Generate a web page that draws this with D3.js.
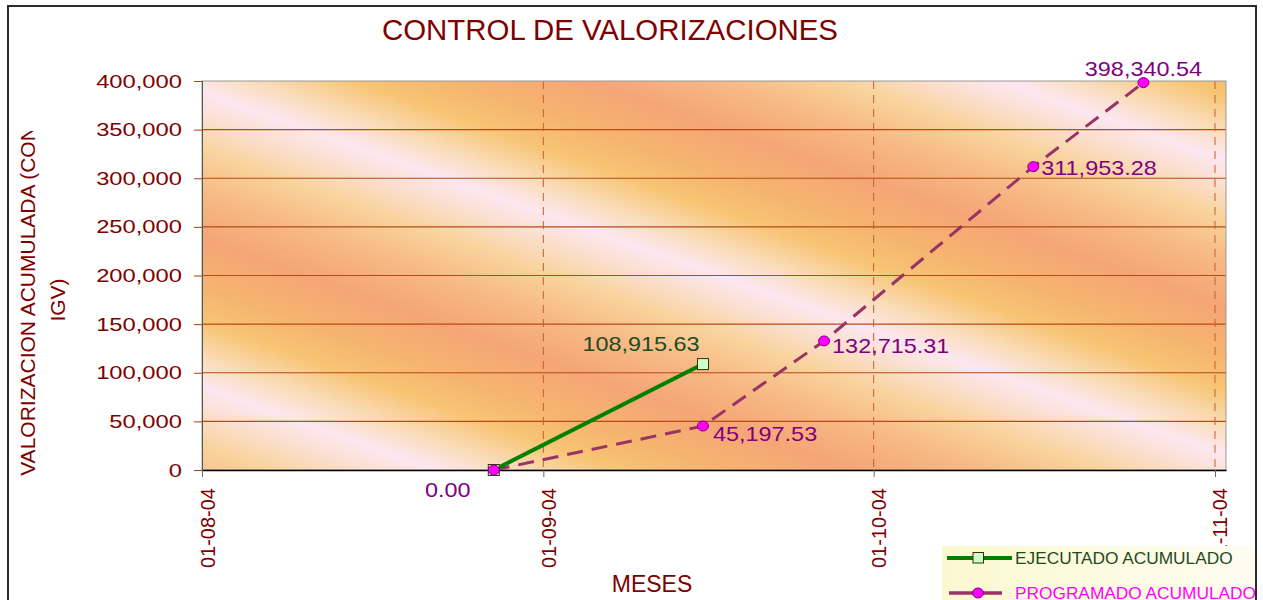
<!DOCTYPE html>
<html>
<head>
<meta charset="utf-8">
<script src="https://cdn.jsdelivr.net/npm/d3@7"></script>
<style>
  body { margin: 0; background: #fff; }
  svg { display: block; font-family: "Liberation Sans", Arial, sans-serif; }
</style>
</head>
<body>
<svg id="chart" width="1263" height="600"></svg>
<script>
// datos
const fechas = ["2004-08-27", "2004-09-15", "2004-09-26", "2004-10-15", "2004-10-25"];
const ejecutado = [0, 108915.63];
const programado = [0, 45197.53, 132715.31, 311953.28, 398340.54];
const yTicks = [0, 50000, 100000, 150000, 200000, 250000, 300000, 350000, 400000];
const xTicks = ["2004-08-01", "2004-09-01", "2004-10-01", "2004-11-01"];
const xDominio = ["2004-08-01", "2004-11-02"];
const series = ["EJECUTADO ACUMULADO", "PROGRAMADO ACUMULADO"];

// desplazamiento de las etiquetas (dx, dy, anchor) -- solo layout
const etqProgramado = [[-46, 27, "middle"], [10, 15, "start"], [8, 12, "start"], [8, 8, "start"], [0, -7, "middle"]];
const etqEjecutado = [null, [-62, -13, "middle"]];

const parse = d3.utcParse("%Y-%m-%d");
const fmtX = d3.utcFormat("%d-%m-%y");
const fmtV = d3.format(",.2f");

const margin = { left: 202, right: 1226, top: 81, bottom: 470 };

const svg = d3.select("#chart");
const defs = svg.append("defs");

let x = d3.scaleUtc()
  .domain(xDominio.map(parse))
  .range([margin.left, margin.right]);
let y = d3.scaleLinear()
  .domain([0, 400000])
  .range([margin.bottom, margin.top]);

// the points sit in the middle of their day
const xm = (f) => x(d3.utcHour.offset(parse(f), 12));

function stretch(sel, k) {
  sel.each(function () {
    const w = this.getComputedTextLength();
    d3.select(this).attr("textLength", w * k).attr("lengthAdjust", "spacingAndGlyphs");
  });
}

// fondo con bandas diagonales
const grad = defs.append("linearGradient")
  .attr("id", "fondo")
  .attr("gradientUnits", "userSpaceOnUse")
  .attr("spreadMethod", "repeat")
  .attr("x1", 200).attr("y1", 91)
  .attr("x2", 107).attr("y2", 353);
[[0, "#fde7f0"], [0.08, "#fbe0d2"], [0.2, "#f9d39c"], [0.35, "#f7b884"], [0.5, "#f5a576"],
 [0.66, "#f6b46f"], [0.78, "#f7c474"], [0.9, "#fadcb8"], [1, "#fde7f0"]]
  .forEach(([o, c]) => grad.append("stop").attr("offset", o).attr("stop-color", c));

const legGrad = defs.append("linearGradient").attr("id", "legfondo");
legGrad.append("stop").attr("offset", 0).attr("stop-color", "#fbf8d0");
legGrad.append("stop").attr("offset", 1).attr("stop-color", "#fffdf2");

defs.append("clipPath").attr("id", "clipTitulo")
  .append("rect").attr("x", 0).attr("y", 131).attr("width", 120).attr("height", 469);
defs.append("clipPath").attr("id", "clipMarco")
  .append("rect").attr("x", 9).attr("y", 7).attr("width", 1246).attr("height", 593);

svg.append("rect")
  .attr("x", margin.left).attr("y", margin.top)
  .attr("width", margin.right - margin.left)
  .attr("height", margin.bottom - margin.top)
  .attr("fill", "url(#fondo)");

// grid lines
svg.append("g")
  .selectAll("line")
  .data(yTicks.filter((t) => t > 0 && t < 400000))
  .enter()
  .append("line")
  .attr("x1", margin.left).attr("x2", margin.right)
  .attr("y1", (t) => y(t)).attr("y2", (t) => y(t))
  .attr("stroke", "#b94a14")
  .attr("stroke-width", 1.2);

svg.append("g")
  .selectAll("line")
  .data(xTicks.slice(1))
  .enter()
  .append("line")
  .attr("x1", (t) => x(parse(t))).attr("x2", (t) => x(parse(t)))
  .attr("y1", margin.top).attr("y2", margin.bottom)
  .attr("stroke", "#c4602c")
  .attr("stroke-dasharray", "8,6");

svg.append("rect")
  .attr("x", margin.left).attr("y", margin.top)
  .attr("width", margin.right - margin.left)
  .attr("height", margin.bottom - margin.top)
  .attr("fill", "none")
  .attr("stroke", "#9a9a9a");

// ejes
const yAxis = svg.append("g")
  .attr("transform", `translate(${margin.left},0)`)
  .call(d3.axisLeft(y).tickValues(yTicks).tickSize(8).tickPadding(12).tickFormat(d3.format(",")));
yAxis.select(".domain").attr("stroke", "#555");
yAxis.selectAll(".tick line").attr("stroke", "#a8420c");
yAxis.selectAll("text")
  .attr("fill", "#800000")
  .attr("font-size", 19)
  .attr("font-family", "Liberation Sans, Arial, sans-serif");
stretch(yAxis.selectAll("text"), 1.25);

const xAxis = svg.append("g")
  .attr("transform", `translate(0,${margin.bottom})`)
  .call(d3.axisBottom(x).tickValues(xTicks.map(parse)).tickSize(7).tickSizeOuter(0).tickFormat(fmtX));
xAxis.select(".domain").attr("stroke", "#000").attr("stroke-width", 1.6);
xAxis.selectAll(".tick line").attr("stroke", "#666");
xAxis.selectAll("text")
  .attr("fill", "#800000")
  .attr("font-size", 20)
  .attr("font-family", "Liberation Sans, Arial, sans-serif")
  .attr("text-anchor", "end")
  .attr("transform", "rotate(-90)")
  .attr("x", -18)
  .attr("y", 12)
  .attr("dy", 0);

// titulos
svg.append("text")
  .attr("x", 382).attr("y", 40)
  .attr("font-size", 29)
  .attr("fill", "#800000")
  .attr("textLength", 456)
  .attr("lengthAdjust", "spacingAndGlyphs")
  .text("CONTROL DE VALORIZACIONES");

svg.append("text")
  .attr("x", 652).attr("y", 592)
  .attr("text-anchor", "middle")
  .attr("font-size", 23)
  .attr("fill", "#800000")
  .text("MESES");

const yTitulo = svg.append("g").attr("clip-path", "url(#clipTitulo)");
yTitulo.append("text")
  .attr("transform", "translate(35,301) rotate(-90)")
  .attr("text-anchor", "middle")
  .attr("font-size", 21)
  .attr("fill", "#800000")
  .text("VALORIZACION ACUMULADA (CON");
yTitulo.append("text")
  .attr("transform", "translate(65,300) rotate(-90)")
  .attr("text-anchor", "middle")
  .attr("font-size", 21)
  .attr("fill", "#800000")
  .text("IGV)");

// series
const puntosP = fechas.map((f, i) => ({ f, v: programado[i] }));
const puntosE = ejecutado.map((v, i) => ({ f: fechas[i], v }));

const line = d3.line().x((d) => xm(d.f)).y((d) => y(d.v));

svg.append("path")
  .datum(puntosP)
  .attr("d", line)
  .attr("fill", "none")
  .attr("stroke", "#993366")
  .attr("stroke-width", 3)
  .attr("stroke-dasharray", "16,9");

svg.append("path")
  .datum(puntosE)
  .attr("d", line)
  .attr("fill", "none")
  .attr("stroke", "#008000")
  .attr("stroke-width", 4);

svg.append("g")
  .selectAll("rect")
  .data(puntosE)
  .enter()
  .append("rect")
  .attr("x", (d) => xm(d.f) - 5.5)
  .attr("y", (d) => y(d.v) - 5.5)
  .attr("width", 11).attr("height", 11)
  .attr("fill", "#ccffcc")
  .attr("stroke", "#333300");

svg.append("g")
  .selectAll("ellipse")
  .data(puntosP)
  .enter()
  .append("ellipse")
  .attr("cx", (d) => xm(d.f))
  .attr("cy", (d) => y(d.v))
  .attr("rx", 5.5).attr("ry", 5)
  .attr("fill", "#ff00ff")
  .attr("stroke", "#800080");

// etiquetas de datos
const etiquetas = svg.append("g").attr("font-size", 21);
etiquetas.selectAll("text.p")
  .data(puntosP)
  .enter()
  .append("text")
  .attr("class", "p")
  .attr("x", (d, i) => xm(d.f) + etqProgramado[i][0])
  .attr("y", (d, i) => y(d.v) + etqProgramado[i][1])
  .attr("text-anchor", (d, i) => etqProgramado[i][2])
  .attr("fill", "#800080")
  .text((d) => fmtV(d.v));
etiquetas.selectAll("text.e")
  .data(puntosE.filter((d, i) => etqEjecutado[i]))
  .enter()
  .append("text")
  .attr("class", "e")
  .attr("x", (d) => xm(d.f) + etqEjecutado[1][0])
  .attr("y", (d) => y(d.v) + etqEjecutado[1][1])
  .attr("text-anchor", "middle")
  .attr("fill", "#1e4b1e")
  .text((d) => fmtV(d.v));
stretch(etiquetas.selectAll("text"), 1.115);

// leyenda
const leg = svg.append("g").attr("clip-path", "url(#clipMarco)");
leg.append("rect")
  .attr("x", 942).attr("y", 546)
  .attr("width", 320).attr("height", 54)
  .attr("fill", "url(#legfondo)");

leg.append("line")
  .attr("x1", 947).attr("x2", 1012).attr("y1", 558).attr("y2", 558)
  .attr("stroke", "#008000").attr("stroke-width", 4);
leg.append("rect")
  .attr("x", 973).attr("y", 552.5).attr("width", 10.5).attr("height", 10.5)
  .attr("fill", "#ccffcc").attr("stroke", "#333300");
leg.append("line")
  .attr("x1", 949).attr("x2", 1002).attr("y1", 593).attr("y2", 593)
  .attr("stroke", "#993366").attr("stroke-width", 3.5);
leg.append("ellipse")
  .attr("cx", 978).attr("cy", 593).attr("rx", 5.5).attr("ry", 5)
  .attr("fill", "#ff00ff").attr("stroke", "#800080");

const legText = leg.selectAll("text.leg")
  .data(series)
  .enter()
  .append("text")
  .attr("class", "leg")
  .attr("x", 1015)
  .attr("y", (d, i) => (i === 0 ? 563.5 : 598.5))
  .attr("font-size", 16)
  .attr("fill", (d, i) => (i === 0 ? "#1e4b1e" : "#ff00ff"))
  .text((d) => d);
stretch(legText, 1.08);

// marco exterior
svg.append("path")
  .attr("d", "M8,600V6H1256V600")
  .attr("fill", "none")
  .attr("stroke", "#2b2b2b")
  .attr("stroke-width", 2);
</script>
</body>
</html>
